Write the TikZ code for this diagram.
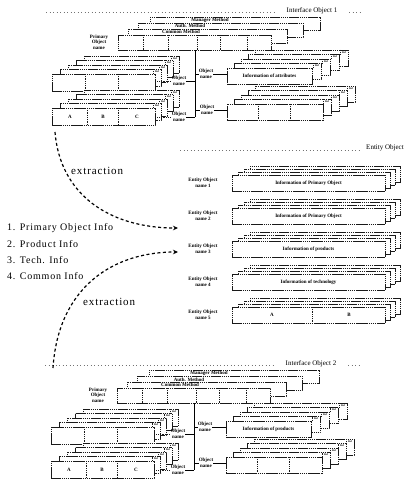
\documentclass[tikz,border=0pt]{standalone}
\usepackage{fontspec}
\setmainfont{Liberation Serif}
\usetikzlibrary{arrows.meta,calc}

\tikzset{
 layer/.style={draw=black!90, fill=white, line width=0.7pt, dash pattern=on 1.4pt off 0.5pt},
 mainbox/.style={draw=black!90, fill=white, line width=0.85pt, dash pattern=on 1.6pt off 0.5pt, inner sep=0pt},
 divider/.style={draw=black!90, line width=0.7pt, dash pattern=on 1pt off 0.8pt},
 header/.style={draw=black!55, line width=0.5pt, dash pattern=on 1pt off 2.5pt},
 link/.style={draw=black, line width=0.75pt},
 extract/.style={draw=black, line width=1.2pt, dash pattern=on 3pt off 2.5pt, -{Stealth[length=5pt,width=4.5pt]}},
 small/.style={font=\fontsize{5}{5.5}\selectfont\bfseries, inner sep=0pt, align=center},
 tagtext/.style={font=\fontsize{2.6}{3}\selectfont\bfseries, inner sep=0pt},
 titletext/.style={font=\fontsize{7}{8}\selectfont, inner sep=0pt},
 listitem/.style={font=\fontsize{10}{12}\selectfont\addfontfeature{LetterSpace=8}, anchor=west, inner sep=0pt},
 extlabel/.style={font=\fontsize{11}{13}\selectfont\addfontfeature{LetterSpace=8}, anchor=west, inner sep=0pt},
}

% back layers with small tags: x0 y0 x1 y1 n dxl dy dxr prefix
\newcommand\taglayers[9]{%
 \foreach \k in {#5,...,1}{%
   \draw[layer] ({#1+\k*#6},{#2-\k*#7}) rectangle ({#3+\k*#8},{#4-\k*#7});
   \draw[divider] ({#3+\k*#8-8},{#2-\k*#7}) -- ++(0,5);
   \node[tagtext] (#9tag\k) at ({#3+\k*#8-4},{#2-\k*#7+2.5}) {Ref};
 }%
}

% interface object: prefix, xshift, yshift, title, info text
\newcommand\ifaceobj[5]{%
\begin{scope}[shift={(#2,#3)}]
 \draw[header] (46,12) -- (275,12);
 \draw[header] (349,12) -- (362,12);
 \node[titletext] (#1title) at (312,11) {#4};
 % primary object with method tabs
 \draw[layer] (150,17) rectangle (320,30);
 \node[small] (#1mgr) at (210,20.3) {Manager Method};
 \draw[layer] (138,23) rectangle (303,37);
 \node[small] (#1auth) at (190,26.3) {Auth. Method};
 \draw[layer] (128,29) rectangle (287,43);
 \node[small] (#1comm) at (181,32.2) {Common Method};
 \node[mainbox, minimum width=153pt, minimum height=15pt] (#1prim) at (194.5,42.5) {};
 \foreach \xx in {143,168,197,220,247} \draw[divider] (\xx,35) -- (\xx,50);
 \node[small] (#1pname) at (99,42) {Primary\\Object\\name};
 \coordinate (#1tb) at (195,117);
 \draw[link] (#1prim.south -| #1tb) -- (#1tb);
 % left object 1
 \taglayers{52}{74}{155}{91}{4}{8}{4.5}{6}{#1la}
 \node[mainbox, minimum width=103pt, minimum height=17pt] (#1left1) at (103.5,82.5) {};
 \foreach \xx in {85,118} \draw[divider] (\xx,74) -- (\xx,91);
 \node[small] (#1ln1) at (179,81) {Object\\name};
 \draw[link] (#1ln1.east) -- (#1ln1.east -| #1tb);
 \draw[divider] (#1left1.east |- #1ln1.west) -- (#1ln1.west);
 % left object 2
 \taglayers{52}{108}{155}{125}{4}{8}{4.5}{6}{#1lb}
 \node[mainbox, minimum width=103pt, minimum height=17pt] (#1left2) at (103.5,116.5) {};
 \foreach \xx in {87,118} \draw[divider] (\xx,108) -- (\xx,125);
 \node[small] (#1ca) at (70,116.5) {A};
 \node[small] (#1cb) at (103,116.5) {B};
 \node[small] (#1cc) at (137,116.5) {C};
 \node[small] (#1ln2) at (179,117) {Object\\name};
 \draw[link] (#1ln2.east) -- (#1tb);
 \draw[divider] (#1left2.east |- #1ln2.west) -- (#1ln2.west);
 % right object 1
 \taglayers{227}{68}{312}{84}{4}{7}{4.5}{9}{#1ra}
 \node[mainbox, small, minimum width=85pt, minimum height=16pt] (#1right1) at (269.5,76) {#5};
 \node[small] (#1rn1) at (206,74) {Object\\name};
 \draw[link] (#1rn1.west -| #1tb) -- (#1rn1.west);
 \draw[link] (#1rn1.east) -- (#1rn1.east -| #1right1.west);
 % right object 2
 \taglayers{227}{104}{323}{120}{4}{7}{4.5}{8}{#1rb}
 \node[mainbox, minimum width=96pt, minimum height=16pt] (#1right2) at (275,112) {};
 \foreach \xx in {258,290} \draw[divider] (\xx,104) -- (\xx,120);
 \node[small] (#1rn2) at (207,110) {Object\\name};
 \draw[link] (#1rn2.west -| #1tb) -- (#1rn2.west);
 \draw[link] (#1rn2.east) -- (#1rn2.east -| #1right2.west);
\end{scope}}

% entity object row: name, centre y, box text, label
\newcommand\entrow[4]{%
 \foreach \k in {3,2,1}{\draw[layer] ({232+\k*6},{#2-8-\k*3}) rectangle ({385+\k*5},{#2+8-\k*3});}
 \node[mainbox, small, minimum width=153pt, minimum height=16pt] (#1) at (308.5,#2) {#3};
 \node[small] (#1lab) at (203,#2) {#4};
}

\begin{document}
\begin{tikzpicture}[x=1pt,y=-1pt]
\useasboundingbox (0,0) rectangle (412,481);

\ifaceobj{t}{0}{0}{Interface Object 1}{Information of attributes}
\ifaceobj{b}{-1}{353}{Interface Object 2}{Information of products}

% entity object
\draw[header] (180,150) -- (362,150);
\node[titletext] (enttitle) at (385,148) {Entity Object};
\entrow{e1}{183}{Information of Primary Object}{Entity Object\\name 1}
\entrow{e2}{216}{Information of Primary Object}{Entity Object\\name 2}
\entrow{e3}{249}{Information of products}{Entity Object\\name 3}
\entrow{e4}{282}{Information of technology}{Entity Object\\name 4}
\entrow{e5}{315}{}{Entity Object\\name 5}
\draw[divider] (312,307) -- (312,323);
\node[small] (e5a) at (272,315) {A};
\node[small] (e5b) at (349,315) {B};

% information list
\node[listitem] (item1) at (7,228) {1. Primary Object Info};
\node[listitem] (item2) at (7,244) {2. Product Info};
\node[listitem] (item3) at (7,260) {3. Tech. Info};
\node[listitem] (item4) at (7,276) {4. Common Info};

% extraction arrows
\coordinate (a1s) at (55,132);
\coordinate (a1e) at (178,228);
\coordinate (a2s) at (53,368);
\coordinate (a2e) at (178,252);
\draw[extract] (a1s) .. controls (60,195) and (110,228) .. (a1e);
\draw[extract] (a2s) .. controls (58,290) and (110,252) .. (a2e);
\node[extlabel] (ext1) at (71,171) {extraction};
\node[extlabel] (ext2) at (83,302) {extraction};
\end{tikzpicture}
\end{document}
